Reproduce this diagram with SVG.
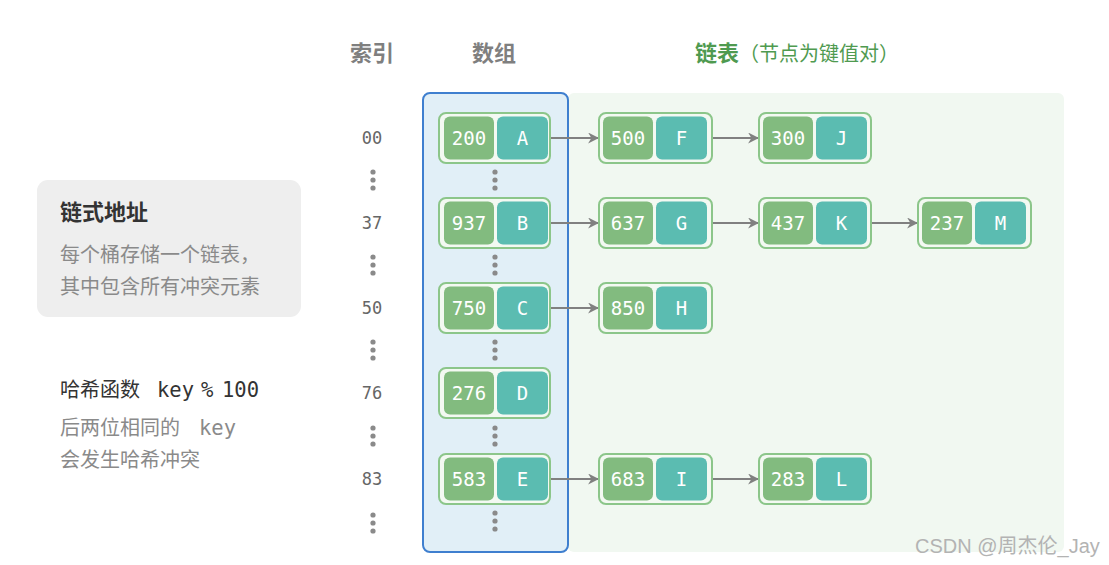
<svg xmlns="http://www.w3.org/2000/svg" width="1109" height="565" viewBox="0 0 1109 565">
<style>
.hdr{font-family:"Noto Sans CJK SC","Noto Sans",sans-serif;font-weight:bold;font-size:22px;fill:#7f7f7f;text-anchor:middle}
.idx{font-family:"DejaVu Sans Mono","Liberation Mono",monospace;font-size:17px;fill:#666666;text-anchor:middle;dominant-baseline:central}
.cell{font-family:"DejaVu Sans Mono","Liberation Mono",monospace;font-size:19px;fill:#ffffff;text-anchor:middle;dominant-baseline:central}
.outer{fill:#f3f9f2;stroke:#8cc68a;stroke-width:2}
.k{fill:#82bb7f}
.v{fill:#5bbcb1}
.dot{fill:#8a8a8a}
.conn line{stroke:#808080;stroke-width:2.2}
.note{font-family:"Noto Sans CJK SC","Noto Sans",sans-serif;font-size:20px;fill:#8a8a8a}
.mono{font-family:"DejaVu Sans Mono","Liberation Mono",monospace;font-size:20.5px}
</style>
<defs>
<marker id="ah" viewBox="0 0 10 10" refX="9" refY="5" markerWidth="5" markerHeight="5" orient="auto" markerUnits="strokeWidth">
<path d="M0,0 L10,5 L0,10 L3,5 z" fill="#808080"/>
</marker>
<g id="dots3"><circle cx="0" cy="-8" r="2.6"/><circle cx="0" cy="0" r="2.6"/><circle cx="0" cy="8" r="2.6"/></g>
</defs>
<rect width="1109" height="565" fill="#ffffff"/>
<!-- panels -->
<rect x="568" y="93" width="496" height="459" rx="6" fill="#f1f8f1"/>
<rect x="423" y="93" width="145" height="459" rx="7" fill="#e1eff7" stroke="#3f7fcf" stroke-width="2"/>
<!-- headers -->
<text class="hdr" x="372" y="61">索引</text>
<text class="hdr" x="494" y="61">数组</text>
<text x="695" y="61" font-family="'Noto Sans CJK SC','Noto Sans',sans-serif" fill="#4f9a50"><tspan font-weight="bold" font-size="22">链表</tspan><tspan font-size="20">（节点为键值对）</tspan></text>
<!-- left note box -->
<g id="note-chain">
<rect x="37" y="180" width="264" height="137" rx="11" fill="#eeeeee"/>
<text x="60" y="220" font-family="'Noto Sans CJK SC','Noto Sans',sans-serif" font-size="22" font-weight="bold" fill="#333333">链式地址</text>
<text class="note" x="60" y="262">每个桶存储一个链表，</text>
<text class="note" x="60" y="294">其中包含所有冲突元素</text>
</g>
<g id="note-hash">
<text x="60" y="397" font-family="'Noto Sans CJK SC','Noto Sans',sans-serif" font-size="20" fill="#333333">哈希函数<tspan class="mono" x="157">key</tspan><tspan class="mono" x="201">%</tspan><tspan class="mono" x="222">100</tspan></text>
<text class="note" x="60" y="435">后两位相同的<tspan class="mono" x="199">key</tspan></text>
<text class="note" x="60" y="467">会发生哈希冲突</text>
</g>
<!-- index labels -->
<g id="index">
<text class="idx" x="372" y="138">00</text>
<text class="idx" x="372" y="223">37</text>
<text class="idx" x="372" y="308">50</text>
<text class="idx" x="372" y="393">76</text>
<text class="idx" x="372" y="479">83</text>
<g class="dot">
<use href="#dots3" x="373" y="180"/>
<use href="#dots3" x="373" y="265"/>
<use href="#dots3" x="373" y="350"/>
<use href="#dots3" x="373" y="436"/>
<use href="#dots3" x="373" y="523"/>
<use href="#dots3" x="495" y="180"/>
<use href="#dots3" x="495" y="265"/>
<use href="#dots3" x="495" y="350"/>
<use href="#dots3" x="495" y="436"/>
<use href="#dots3" x="495" y="521"/>
</g>
</g>
<!-- connectors -->
<g class="conn" id="connectors">
<line x1="550" y1="138" x2="598" y2="138" marker-end="url(#ah)"/>
<line x1="712" y1="138" x2="758" y2="138" marker-end="url(#ah)"/>
<line x1="550" y1="223" x2="598" y2="223" marker-end="url(#ah)"/>
<line x1="712" y1="223" x2="758" y2="223" marker-end="url(#ah)"/>
<line x1="871" y1="223" x2="917" y2="223" marker-end="url(#ah)"/>
<line x1="550" y1="308" x2="598" y2="308" marker-end="url(#ah)"/>
<line x1="550" y1="479" x2="598" y2="479" marker-end="url(#ah)"/>
<line x1="712" y1="479" x2="758" y2="479" marker-end="url(#ah)"/>
</g>
<!-- nodes -->
<g id="node-A"><rect class="outer" x="439" y="113" width="111" height="50" rx="7"/><rect class="k" x="444" y="116.5" width="50" height="43" rx="6"/><rect class="v" x="497" y="116.5" width="51" height="43" rx="6"/><text class="cell" x="469" y="138">200</text><text class="cell" x="522.5" y="138">A</text></g>
<g id="node-F"><rect class="outer" x="599" y="113" width="113" height="50" rx="7"/><rect class="k" x="603" y="116.5" width="50" height="43" rx="6"/><rect class="v" x="656" y="116.5" width="51" height="43" rx="6"/><text class="cell" x="628" y="138">500</text><text class="cell" x="681.5" y="138">F</text></g>
<g id="node-J"><rect class="outer" x="759" y="113" width="112" height="50" rx="7"/><rect class="k" x="763" y="116.5" width="50" height="43" rx="6"/><rect class="v" x="816" y="116.5" width="51" height="43" rx="6"/><text class="cell" x="788" y="138">300</text><text class="cell" x="841.5" y="138">J</text></g>

<g id="node-B"><rect class="outer" x="439" y="198" width="111" height="50" rx="7"/><rect class="k" x="444" y="201.5" width="50" height="43" rx="6"/><rect class="v" x="497" y="201.5" width="51" height="43" rx="6"/><text class="cell" x="469" y="223">937</text><text class="cell" x="522.5" y="223">B</text></g>
<g id="node-G"><rect class="outer" x="599" y="198" width="113" height="50" rx="7"/><rect class="k" x="603" y="201.5" width="50" height="43" rx="6"/><rect class="v" x="656" y="201.5" width="51" height="43" rx="6"/><text class="cell" x="628" y="223">637</text><text class="cell" x="681.5" y="223">G</text></g>
<g id="node-K"><rect class="outer" x="759" y="198" width="112" height="50" rx="7"/><rect class="k" x="763" y="201.5" width="50" height="43" rx="6"/><rect class="v" x="816" y="201.5" width="51" height="43" rx="6"/><text class="cell" x="788" y="223">437</text><text class="cell" x="841.5" y="223">K</text></g>
<g id="node-M"><rect class="outer" x="918" y="198" width="113" height="50" rx="7"/><rect class="k" x="922" y="201.5" width="50" height="43" rx="6"/><rect class="v" x="975" y="201.5" width="51" height="43" rx="6"/><text class="cell" x="947" y="223">237</text><text class="cell" x="1000.5" y="223">M</text></g>

<g id="node-C"><rect class="outer" x="439" y="283" width="111" height="50" rx="7"/><rect class="k" x="444" y="286.5" width="50" height="43" rx="6"/><rect class="v" x="497" y="286.5" width="51" height="43" rx="6"/><text class="cell" x="469" y="308">750</text><text class="cell" x="522.5" y="308">C</text></g>
<g id="node-H"><rect class="outer" x="599" y="283" width="113" height="50" rx="7"/><rect class="k" x="603" y="286.5" width="50" height="43" rx="6"/><rect class="v" x="656" y="286.5" width="51" height="43" rx="6"/><text class="cell" x="628" y="308">850</text><text class="cell" x="681.5" y="308">H</text></g>

<g id="node-D"><rect class="outer" x="439" y="368" width="111" height="50" rx="7"/><rect class="k" x="444" y="371.5" width="50" height="43" rx="6"/><rect class="v" x="497" y="371.5" width="51" height="43" rx="6"/><text class="cell" x="469" y="393">276</text><text class="cell" x="522.5" y="393">D</text></g>

<g id="node-E"><rect class="outer" x="439" y="454" width="111" height="50" rx="7"/><rect class="k" x="444" y="457.5" width="50" height="43" rx="6"/><rect class="v" x="497" y="457.5" width="51" height="43" rx="6"/><text class="cell" x="469" y="479">583</text><text class="cell" x="522.5" y="479">E</text></g>
<g id="node-I"><rect class="outer" x="599" y="454" width="113" height="50" rx="7"/><rect class="k" x="603" y="457.5" width="50" height="43" rx="6"/><rect class="v" x="656" y="457.5" width="51" height="43" rx="6"/><text class="cell" x="628" y="479">683</text><text class="cell" x="681.5" y="479">I</text></g>
<g id="node-L"><rect class="outer" x="759" y="454" width="112" height="50" rx="7"/><rect class="k" x="763" y="457.5" width="50" height="43" rx="6"/><rect class="v" x="816" y="457.5" width="51" height="43" rx="6"/><text class="cell" x="788" y="479">283</text><text class="cell" x="841.5" y="479">L</text></g>
<!-- watermark -->
<text x="915" y="553" font-family="'Liberation Sans','Noto Sans CJK SC',sans-serif" font-size="20" fill="#b3b3b3">CSDN @周杰伦_Jay</text>
</svg>
